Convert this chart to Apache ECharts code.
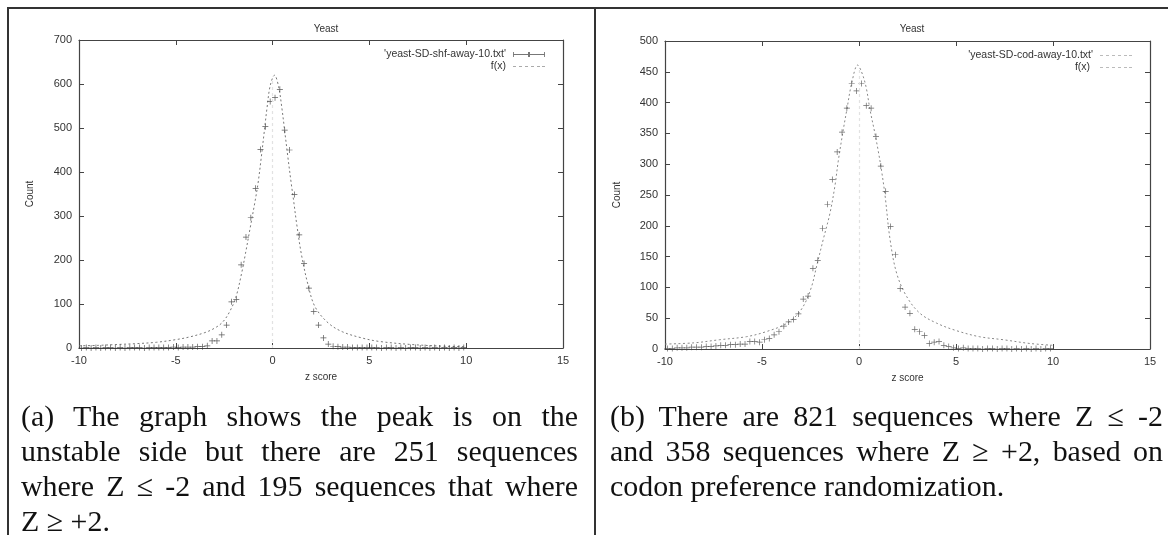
<!DOCTYPE html>
<html>
<head>
<meta charset="utf-8">
<script src="https://cdn.jsdelivr.net/npm/echarts@6/dist/echarts.min.js"></script>
<style>
  html, body { margin: 0; padding: 0; background: #fff; }
  #wrap { position: relative; width: 1168px; height: 535px; overflow: hidden; background: #fff; }
  #chart { position: absolute; left: 0; top: 0; width: 1168px; height: 535px; }
  .rule { position: absolute; background: #333; }
  .cap { position: absolute; font-family: "Liberation Serif", "DejaVu Serif", serif; font-size: 29.9px; line-height: 35px; color: #111; }
  .cap div { white-space: nowrap; }
  .cap div.j { text-align: justify; text-align-last: justify; white-space: normal; }
</style>
</head>
<body>
<div id="wrap">
  <div id="chart"></div>
  <div class="rule" style="left:8px; top:7px; width:1160px; height:2px;"></div>
  <div class="rule" style="left:7px; top:7px; width:2px; height:528px;"></div>
  <div class="rule" style="left:594px; top:7px; width:2px; height:528px;"></div>
  <div class="cap" id="capA" style="left:21px; top:398px; width:557px;">
    <div class="j">(a) The graph shows the peak is on the</div>
    <div class="j">unstable side but there are 251 sequences</div>
    <div class="j">where Z ≤ -2 and 195 sequences that where</div>
    <div>Z ≥ +2.</div>
  </div>
  <div class="cap" id="capB" style="left:610px; top:398px; width:553px;">
    <div class="j">(b) There are 821 sequences where Z ≤ -2</div>
    <div class="j">and 358 sequences where Z ≥ +2, based on</div>
    <div>codon preference randomization.</div>
  </div>
</div>
<script>
// ---------- data ----------
const chartTitle = 'Yeast';
const xAxisName = 'z score';
const yAxisName = 'Count';
const seriesNameA = "'yeast-SD-shf-away-10.txt'";
const seriesNameB = "'yeast-SD-cod-away-10.txt'";
const fitName = 'f(x)';

// bin centres of z score
const zBins = [
  -9.875, -9.625, -9.375, -9.125, -8.875, -8.625, -8.375, -8.125, -7.875, -7.625,
  -7.375, -7.125, -6.875, -6.625, -6.375, -6.125, -5.875, -5.625, -5.375, -5.125,
  -4.875, -4.625, -4.375, -4.125, -3.875, -3.625, -3.375, -3.125, -2.875, -2.625,
  -2.375, -2.125, -1.875, -1.625, -1.375, -1.125, -0.875, -0.625, -0.375, -0.125,
  0.125, 0.375, 0.625, 0.875, 1.125, 1.375, 1.625, 1.875, 2.125, 2.375,
  2.625, 2.875, 3.125, 3.375, 3.625, 3.875, 4.125, 4.375, 4.625, 4.875,
  5.125, 5.375, 5.625, 5.875, 6.125, 6.375, 6.625, 6.875, 7.125, 7.375,
  7.625, 7.875, 8.125, 8.375, 8.625, 8.875, 9.125, 9.375, 9.625, 9.875
];

// (a) shuffled randomization counts
const countsA = [
  0, 1, 0, 1, 0, 1, 1, 0, 1, 0,
  1, 1, 1, 0, 1, 1, 1, 1, 1, 2,
  1, 2, 2, 2, 3, 3, 5, 16, 16, 30,
  52, 105, 110, 189, 252, 296, 363, 451, 503, 560,
  569, 588, 495, 450, 349, 257, 192, 136, 83, 52,
  23, 9, 4, 3, 2, 2, 1, 1, 1, 1,
  1, 1, 0, 1, 1, 0, 1, 0, 1, 1,
  0, 1, 0, 1, 0, 1, 0, 1, 0, 1
];

// (b) codon preference randomization counts
const countsB = [
  1, 1, 2, 2, 2, 3, 3, 3, 4, 4,
  5, 6, 6, 7, 7, 8, 8, 12, 12, 11,
  15, 17, 23, 28, 37, 44, 48, 57, 81, 86,
  131, 144, 196, 235, 275, 320, 352, 391, 431, 419,
  431, 395, 391, 345, 297, 256, 199, 153, 98, 68,
  58, 32, 28, 22, 9, 11, 12, 6, 4, 2,
  1, 2, 1, 1, 1, 0, 1, 1, 0, 1,
  1, 0, 1, 0, 1, 0, 1, 0, 1, 1
];

// fitted curve f(x)
const fitAx = [-10, -9, -8, -7, -6, -5, -4.3, -3.5, -3, -2.6, -2.25, -1.9, -1.6, -1.4, -1.15, -0.9, -0.75, -0.58, -0.43, -0.29, -0.12, 0.1,
  0.31, 0.48, 0.62, 0.78, 0.96, 1.1, 1.25, 1.5, 1.85, 2.2, 2.87, 3.6, 4.6, 5.5, 7.15, 8.9, 10];
const fitAy = [5, 6, 8, 10, 13, 19, 25, 35, 45, 58, 80, 115, 170, 215, 275, 335, 375, 435, 492, 545, 597, 620,
  594, 545, 495, 437, 375, 330, 280, 210, 140, 93, 57, 37, 23, 15, 8, 4, 3];

const fitBx = [-10, -8.5, -7.2, -5.8, -4.8, -3.7, -3, -2.5, -2.15, -1.85, -1.5, -1.24, -1.07, -0.81, -0.63, -0.38, -0.07,
  0.13, 0.36, 0.57, 0.82, 1.0, 1.16, 1.34, 1.6, 1.94, 2.46, 3.14, 4, 5, 6.2, 7.45, 8.8, 10];
const fitBy = [8, 10, 15, 20, 28, 42, 63, 96, 139, 177, 220, 265, 305, 356, 388, 431, 461,
  450, 426, 388, 350, 320, 290, 250, 178, 123, 85, 58, 42, 30, 20, 15, 9, 6];

const xMin = -10, xMax = 15, xStep = 5;
const yMaxA = 700, yStepA = 100;
const yMaxB = 500, yStepB = 50;

// ---------- build ----------
const pair = (xs, ys) => xs.map((x, i) => [x, ys[i]]);
const font = '"Liberation Sans", Arial, sans-serif';
const plusIcon = 'path://M0,4.4 L10,4.4 L10,5.6 L0,5.6 Z M4.4,0 L5.6,0 L5.6,10 L4.4,10 Z';
const dataLegendIcon = 'path://M0,4.6 L32,4.6 L32,5.4 L0,5.4 Z M0,2.5 L0.9,2.5 L0.9,7.5 L0,7.5 Z M31.1,2.5 L32,2.5 L32,7.5 L31.1,7.5 Z M15,2.5 L17,2.5 L17,7.5 L15,7.5 Z';
const fitLegendIcon = 'path://M0,4.5 L3,4.5 L3,5.5 L0,5.5 Z M6,4.5 L9,4.5 L9,5.5 L6,5.5 Z M12,4.5 L15,4.5 L15,5.5 L12,5.5 Z M18,4.5 L21,4.5 L21,5.5 L18,5.5 Z M24,4.5 L27,4.5 L27,5.5 L24,5.5 Z M29,4.5 L32,4.5 L32,5.5 L29,5.5 Z';

const grids = [
  { left: 79, top: 40, width: 484, height: 308 },
  { left: 665, top: 41, width: 485, height: 308 }
];

function xAxes(gi) {
  const common = {
    type: 'value', gridIndex: gi, min: xMin, max: xMax, interval: xStep,
    splitLine: { show: false },
    axisLine: { show: true, onZero: false, lineStyle: { color: '#444', width: 1.2 } },
    axisTick: { show: true, inside: true, length: 5, lineStyle: { color: '#444' } }
  };
  return [
    Object.assign({}, common, {
      position: 'bottom',
      name: xAxisName, nameLocation: 'middle', nameGap: 24,
      nameTextStyle: { fontFamily: font, fontSize: 10, color: '#333' },
      axisLabel: { show: true, fontFamily: font, fontSize: 11, color: '#333', margin: 7 }
    }),
    Object.assign({}, common, { position: 'top', axisLabel: { show: false } })
  ];
}
function yAxes(gi, max, step, gap) {
  const common = {
    type: 'value', gridIndex: gi, min: 0, max: max, interval: step,
    splitLine: { show: false },
    axisLine: { show: true, onZero: false, lineStyle: { color: '#444', width: 1.2 } },
    axisTick: { show: true, inside: true, length: 5, lineStyle: { color: '#444' } }
  };
  return [
    Object.assign({}, common, {
      position: 'left',
      name: yAxisName, nameLocation: 'middle', nameGap: gap, nameRotate: 90,
      nameTextStyle: { fontFamily: font, fontSize: 10, color: '#333' },
      axisLabel: { show: true, fontFamily: font, fontSize: 11, color: '#333', margin: 7 }
    }),
    Object.assign({}, common, { position: 'right', axisLabel: { show: false } })
  ];
}

function panelSeries(gi, dataName, fitLabel, counts, fx, fy, peak, pointColor, fitColor) {
  const xi = gi * 2, yi = gi * 2;
  return [
    {
      type: 'scatter', name: dataName, xAxisIndex: xi, yAxisIndex: yi,
      data: pair(zBins, counts),
      symbol: plusIcon, symbolSize: 6,
      itemStyle: { color: pointColor },
      z: 3
    },
    {
      type: 'line', name: fitLabel, xAxisIndex: xi, yAxisIndex: yi,
      data: pair(fx, fy), smooth: 0.35, showSymbol: false, symbol: 'none',
      lineStyle: { color: fitColor, width: 1, type: [2, 2.5] },
      z: 2,
      markLine: {
        silent: true, symbol: 'none', label: { show: false },
        lineStyle: { color: '#e2e2e2', type: [3, 3], width: 1.2 },
        data: [[{ coord: [0, 0] }, { coord: [0, peak] }]]
      }
    }
  ];
}

const option = {
  animation: false,
  backgroundColor: 'transparent',
  title: [
    { text: chartTitle, left: 321, top: 19, textAlign: 'center',
      textStyle: { fontFamily: font, fontSize: 10, fontWeight: 'normal', color: '#333' } },
    { text: chartTitle, left: 907, top: 19, textAlign: 'center',
      textStyle: { fontFamily: font, fontSize: 10, fontWeight: 'normal', color: '#333' } }
  ],
  legend: [
    { orient: 'vertical', right: 1168 - 550, top: 44, align: 'right', itemGap: 1,
      itemWidth: 32, itemHeight: 10, selectedMode: false,
      textStyle: { fontFamily: font, fontSize: 10.5, color: '#333', padding: [0, 2, 0, 0] },
      data: [
        { name: seriesNameA, icon: dataLegendIcon, itemStyle: { color: '#555' } },
        { name: fitName, icon: fitLegendIcon, itemStyle: { color: '#aaa' } }
      ] },
    { orient: 'vertical', right: 1168 - 1137, top: 45, align: 'right', itemGap: 1,
      itemWidth: 32, itemHeight: 10, selectedMode: false,
      textStyle: { fontFamily: font, fontSize: 10.5, color: '#333', padding: [0, 2, 0, 0] },
      data: [
        { name: seriesNameB, icon: fitLegendIcon, itemStyle: { color: '#aaa' } },
        { name: fitName + ' ', icon: fitLegendIcon, itemStyle: { color: '#bbb' } }
      ] }
  ],
  grid: grids,
  xAxis: xAxes(0).concat(xAxes(1)),
  yAxis: yAxes(0, yMaxA, yStepA, 44).concat(yAxes(1, yMaxB, yStepB, 43)),
  series: panelSeries(0, seriesNameA, fitName, countsA, fitAx, fitAy, 610, '#333', '#777')
    .concat(panelSeries(1, seriesNameB, fitName + ' ', countsB, fitBx, fitBy, 455, '#444', '#888'))
};

const chart = echarts.init(document.getElementById('chart'), null, { renderer: 'canvas' });
chart.setOption(option);
</script>
</body>
</html>
